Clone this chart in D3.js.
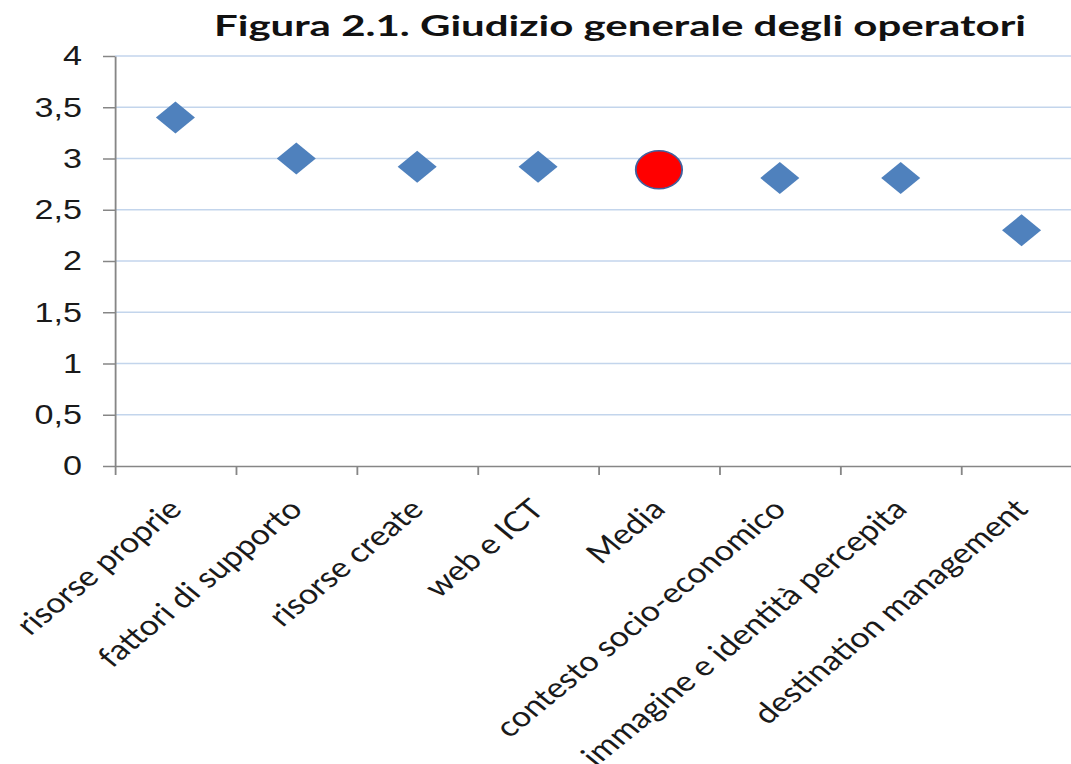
<!DOCTYPE html>
<html>
<head>
<meta charset="utf-8">
<script src="https://cdn.jsdelivr.net/npm/d3@7"></script>
<style>
  body { margin: 0; background: #fff; }
  svg { display: block; font-family: Lato, "Open Sans", sans-serif; }
</style>
</head>
<body>
<div id="chart"></div>
<script>
let categories = ["risorse proprie", "fattori di supporto", "risorse create", "web e ICT",
  "Media", "contesto socio-economico", "immagine e identità percepita", "destination management"];
let values = [3.4, 3.0, 2.92, 2.92, 2.89, 2.81, 2.81, 2.3];
let yTicks = [0, 0.5, 1, 1.5, 2, 2.5, 3, 3.5, 4];
let title = "Figura 2.1. Giudizio generale degli operatori";

let w = 1071, h = 764;
// the original picture is stretched sideways, so everything is drawn in a squeezed frame
let sx = 1.22;

let svg = d3.select("#chart").append("svg")
  .attr("width", w)
  .attr("height", h);

let g = svg.append("g").attr("transform", "scale(" + sx + ",1)");

let plotLeft = 115 / sx, plotRight = 1082 / sx;
let plotTop = 56, plotBottom = 466;

let x = d3.scaleBand().domain(categories).range([plotLeft, plotRight]).padding(0);
let xEdge = d3.scaleLinear().domain([0, categories.length]).range([plotLeft, plotRight]);
let y = d3.scaleLinear().domain([0, 4]).range([plotBottom, plotTop]);

// gridlines
g.append("g")
  .selectAll("line")
  .data(yTicks.filter(d => d > 0))
  .enter()
  .append("line")
  .attr("x1", plotLeft)
  .attr("x2", plotRight)
  .attr("y1", d => y(d))
  .attr("y2", d => y(d))
  .attr("stroke", "#c3d5ec")
  .attr("stroke-width", 1.5);

// y axis
let yAxis = g.append("g")
  .attr("transform", "translate(" + plotLeft + ",0)")
  .call(d3.axisLeft(y).tickValues(yTicks).tickSize(12 / sx).tickSizeOuter(0).tickPadding(21 / sx)
    .tickFormat(d => String(d).replace(".", ",")));
yAxis.select(".domain").attr("stroke", "#868686").attr("stroke-width", 1.5);
yAxis.selectAll(".tick line").attr("stroke", "#868686").attr("stroke-width", 1.5);
yAxis.selectAll(".tick text")
  .attr("fill", "#1a1a1a")
  .style("font-size", "28px");

// x axis (ticks between categories)
let xAxis = g.append("g")
  .attr("transform", "translate(0," + plotBottom + ")")
  .call(d3.axisBottom(xEdge).tickValues(d3.range(categories.length + 1)).tickSize(9).tickSizeOuter(0)
    .tickFormat(""));
xAxis.select(".domain").attr("stroke", "#868686").attr("stroke-width", 1.5);
xAxis.selectAll(".tick line").attr("stroke", "#868686").attr("stroke-width", 1.5);

// category labels
g.append("g")
  .selectAll("text")
  .data(categories)
  .enter()
  .append("text")
  .attr("transform", d => "translate(" + (x(d) + x.bandwidth() / 2 + 8 / sx) + ",511) rotate(-45)")
  .attr("text-anchor", "end")
  .attr("fill", "#1a1a1a")
  .style("font-size", "28px")
  .text(d => d);

// points
let pts = categories.map((c, i) => ({ cat: c, val: values[i] }));

g.append("g")
  .selectAll("path")
  .data(pts.filter(d => d.cat != "Media"))
  .enter()
  .append("path")
  .attr("transform", d => "translate(" + (x(d.cat) + x.bandwidth() / 2) + "," + y(d.val) + ")")
  .attr("d", d3.symbol().type(d3.symbolDiamond2).size(653))
  .attr("fill", "#4f81bd");

g.append("g")
  .selectAll("circle")
  .data(pts.filter(d => d.cat == "Media"))
  .enter()
  .append("circle")
  .attr("cx", d => x(d.cat) + x.bandwidth() / 2)
  .attr("cy", d => y(d.val))
  .attr("r", 19)
  .attr("fill", "#ff0000")
  .attr("stroke", "#41609e")
  .attr("stroke-width", 1.5);

// title
g.append("text")
  .attr("x", 620 / sx)
  .attr("y", 36)
  .attr("text-anchor", "middle")
  .attr("fill", "#111")
  .attr("textLength", 812 / sx)
  .attr("lengthAdjust", "spacingAndGlyphs")
  .style("font-size", "29px")
  .style("font-weight", "bold")
  .text(title);
</script>
</body>
</html>
